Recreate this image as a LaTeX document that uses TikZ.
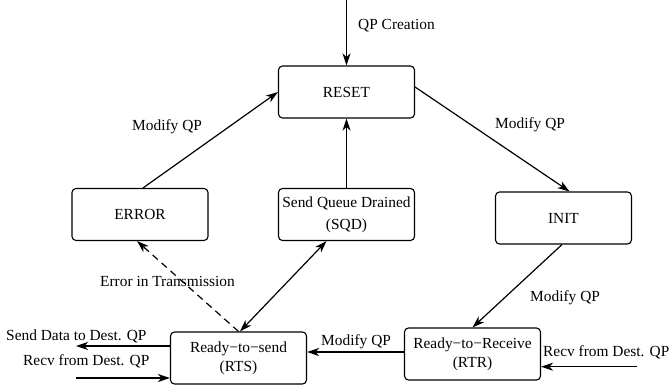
\documentclass[tikz,border=0pt]{standalone}
\usepackage{fontspec}
\setmainfont{Liberation Serif}
\usetikzlibrary{arrows.meta}

\begin{document}
\begin{tikzpicture}[x=1pt,y=-1pt,
  every node/.style={font=\fontsize{15.4}{19}\selectfont},
  stbox/.style={draw, line width=1.1pt, rounded corners=4pt,
    minimum width=136pt, minimum height=52pt, inner sep=0pt, align=center},
  lbl/.style={anchor=west, inner sep=0pt},
  arr/.style={line width=1.2pt, -{Stealth[length=12pt,width=8pt,inset=3.5pt]}},
  arrboth/.style={line width=1.2pt, {Stealth[length=12pt,width=8pt,inset=3.5pt]}-{Stealth[length=12pt,width=8pt,inset=3.5pt]}},
  dashline/.style={dash pattern=on 7pt off 5pt}]
  \useasboundingbox (0,0) rectangle (669,388);

  % states
  \node[stbox] (reset) at (346.5,92) {RESET};
  \node[stbox] (error) at (140,214.5) {ERROR};
  \node[stbox, font=\fontsize{15.4}{22}\selectfont] (sqd) at (346.5,214.5) {Send Queue Drained\\(SQD)};
  \node[stbox] (init) at (563.5,218) {INIT};
  \node[stbox] (rts) at (238.5,358) {Ready−to−send\\(RTS)};
  \node[stbox] (rtr) at (472.5,354) {Ready−to−Receive\\(RTR)};

  % free ends of the external arrows
  \coordinate (qpin) at (346.5,0);
  \coordinate (rin) at (637,366.7);
  \coordinate (sout) at (76,346);
  \coordinate (lin) at (76,378);

  % transitions
  \draw[arr] (qpin) -- (reset.north);
  \draw[arr] ([xshift=3pt]error.north) -- (reset.west);
  \draw[arr] ([yshift=5pt]reset.east) -- ([xshift=6pt]init.north);
  \draw[arr] (sqd.north) -- (reset.south);
  \draw[arr] ([xshift=-1.5pt]init.south) -- (rtr.north);
  \draw[arr] ([yshift=2pt]rtr.west) -- ([yshift=2pt]rtr.west -| rts.east);
  \draw[arr] (rin) -- (rin -| rtr.east);
  \draw[arr] (sout -| rts.west) -- (sout);
  \draw[arr] (lin) -- (lin -| rts.west);
  \draw[arr, dashline] (rts.north) -- ([xshift=-3pt]error.south);
  \draw[arrboth] ([xshift=1.5pt]rts.north) -- ([xshift=-20pt]sqd.south);

  % transition labels
  \node[lbl] (lqp) at (358,26) {QP Creation};
  \node[lbl] (lm1) at (132,127) {Modify QP};
  \node[lbl] (lm2) at (495,125) {Modify QP};
  \node[lbl] (lm3) at (530,298) {Modify QP};
  \node[lbl] (lm4) at (321,342) {Modify QP};
  \node[lbl] (lrr) at (543,352) {Recv from Dest. QP};
  \node[lbl] (lsd) at (6,336) {Send Data to Dest. QP};
  \node[lbl] (lrl) at (23,361) {Recv from Dest. QP};
  \node[lbl] (lerr) at (100,281) {Error in Transmission};
\end{tikzpicture}
\end{document}
